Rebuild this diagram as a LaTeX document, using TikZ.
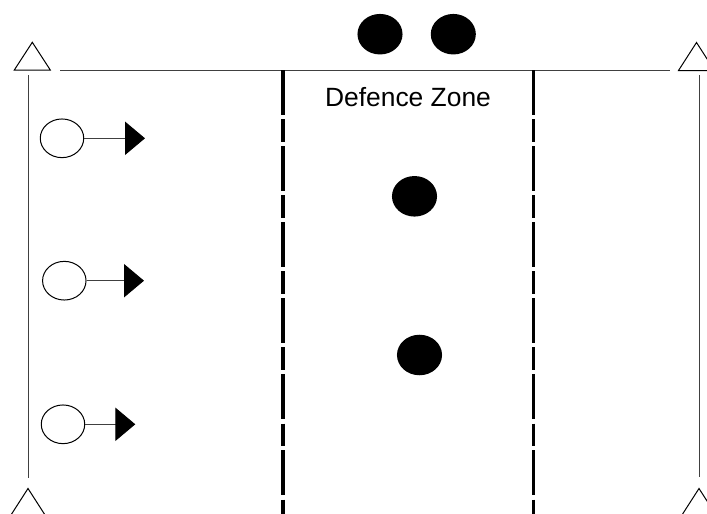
\documentclass[tikz,border=0pt]{standalone}
\usepackage{fontspec}
\setmainfont{Liberation Sans}
\usetikzlibrary{arrows.meta,shapes.geometric}
\begin{document}
\begin{tikzpicture}[x=0.75pt,y=-0.75pt,
  thinline/.style={draw=black!75,line width=0.75pt},
  cone/.style={draw=black,line width=0.75pt,line join=miter},
  zoneline/.style={draw=black,line width=2.4pt,dash pattern=on 33.75pt off 3.2pt on 16.9pt off 3.2pt},
  attacker/.style={ellipse,draw=black,line width=0.75pt,minimum width=32.6pt,minimum height=29pt,inner sep=0pt},
  defender/.style={ellipse,fill=black,minimum width=33.8pt,minimum height=30.4pt,inner sep=0pt},
  runarrow/.style={draw=black!75,line width=0.75pt,-{Triangle[length=15pt,width=25pt,color=black]}}
]
\useasboundingbox (0,0) rectangle (707,514);
% field lines
\coordinate (tl) at (60,70);
\coordinate (tr) at (670,70);
\coordinate (ltop) at (28,75);
\coordinate (lbot) at (28,478);
\coordinate (rtop) at (699,75);
\coordinate (rbot) at (699,477);
\draw[thinline] (tl) -- (tr);
\draw[thinline] (ltop) -- (lbot);
\draw[thinline] (rtop) -- (rbot);
% cones
\draw[cone] (32.3,42.3) -- (50.3,70) -- (14.3,70) -- cycle;
\draw[cone] (696.5,42.5) -- (714.5,70.5) -- (678.5,70.5) -- cycle;
\draw[cone] (28,488.5) -- (46,516.5) -- (10,516.5) -- cycle;
\draw[cone] (699,488.5) -- (717,516.5) -- (681,516.5) -- cycle;
% defence zone lines
\coordinate (z1top) at (283,70);
\coordinate (z1bot) at (283,520);
\coordinate (z2top) at (533.3,70);
\coordinate (z2bot) at (533.3,520);
\draw[zoneline] (z1top) -- (z1bot);
\draw[zoneline] (z2top) -- (z2bot);
% label
\node[anchor=base,font=\fontsize{19.8}{24}\selectfont,inner sep=0pt] (label) at (408,106.5) {Defence Zone};
% attackers
\node[attacker] (a1) at (62,138.3) {};
\node[attacker] (a2) at (64.3,280.7) {};
\node[attacker] (a3) at (63,424.3) {};
\coordinate (t1) at (145,138.3);
\coordinate (t2) at (144,280.7);
\coordinate (t3) at (135.3,424.3);
\draw[runarrow] (a1.east) -- (t1);
\draw[runarrow] (a2.east) -- (t2);
\draw[runarrow] (a3.east) -- (t3);
% defenders
\node[defender] (d1) at (380,34.2) {};
\node[defender] (d2) at (453.3,34.2) {};
\node[defender] (d3) at (414.5,196.3) {};
\node[defender] (d4) at (419.5,355) {};
\end{tikzpicture}
\end{document}
